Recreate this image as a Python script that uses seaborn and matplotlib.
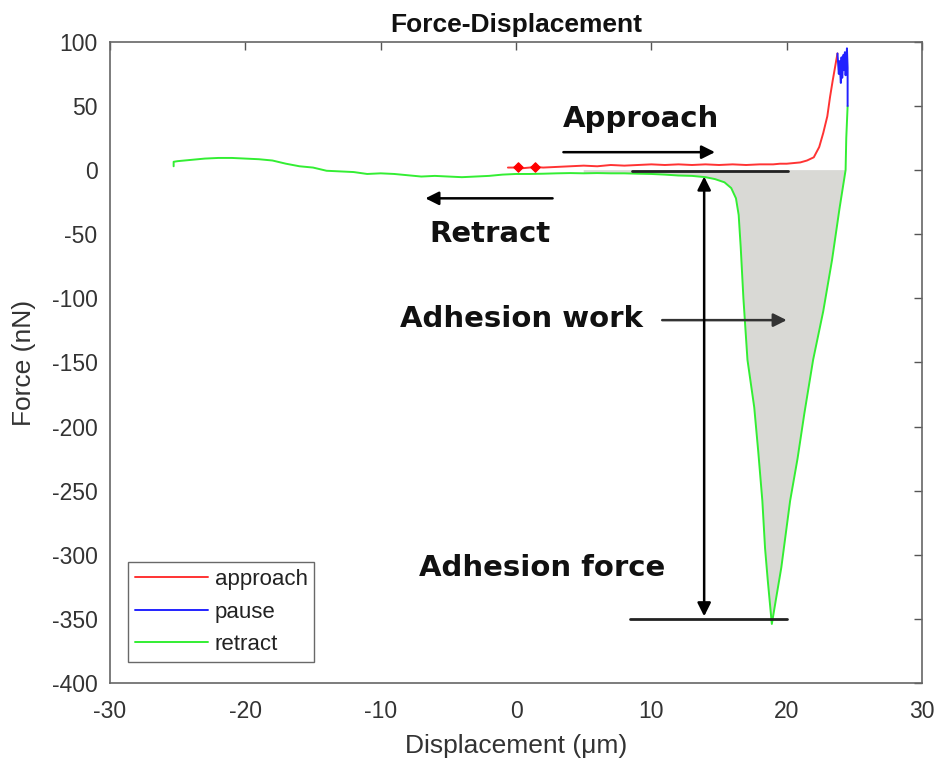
import matplotlib
matplotlib.use("Agg")
import matplotlib.pyplot as plt
import seaborn as sns
import pandas as pd

# ---------------- data ----------------
approach_x = [-0.6, -0.2, 0.15, 0.5, 1.0, 1.4, 2, 3, 4, 5, 6, 7, 8, 9, 10, 11, 12, 13, 14, 15,
              16, 17, 18, 19, 19.5, 20, 20.5, 21, 21.5, 22, 22.4, 22.7, 23.0, 23.2, 23.4, 23.6, 23.75]
approach_y = [2, 2, 2.5, 1.5, 2, 2.5, 2, 2.5, 3, 3.5, 3, 4, 3.5, 4, 4.5, 4, 4.5, 4, 4.5, 4,
              4.5, 4, 4.5, 4.5, 5, 5, 5.5, 6, 7.5, 10, 18, 29, 42, 57, 70, 82, 91]
approach_dot_x = [0.15, 1.4]
approach_dot_y = [2.5, 2.5]

pause_x = [23.75, 23.85, 23.9, 24.0, 24.05, 24.1, 24.2, 24.25, 24.3, 24.35, 24.45, 24.5, 24.5]
pause_y = [91, 75, 85, 68, 88, 72, 90, 78, 92, 74, 95, 80, 50]

retract_x = [24.5, 24.4, 24.35, 23.9, 23.35, 22.7, 21.95, 21.3, 20.8, 20.25, 19.6, 19.2, 18.9,
             18.6, 18.4, 18.2, 17.9, 17.6, 17.1, 16.8, 16.6, 16.45, 16.25, 15.9, 15.4, 14.7, 14.0,
             13, 12, 11, 10, 9, 8, 7, 6, 5, 4, 3, 2, 1, 0, -1, -2, -3, -4, -5, -6, -7, -8, -9,
             -10, -11, -12, -13, -14, -15, -16, -17, -18, -19, -20, -21, -22, -23, -24, -25,
             -25.3, -25.3]
retract_y = [50, 25, 0, -30, -70, -110, -148, -190, -225, -258, -310, -335, -354,
             -320, -295, -258, -220, -185, -148, -100, -60, -35, -22, -14, -9.5, -7, -5.5,
             -4.5, -4.2, -3.5, -3, -2.8, -2.5, -2.5, -2.3, -2.5, -2.3, -2.5, -2.8, -3, -3,
             -3.5, -4.5, -5, -5.5, -5, -4.5, -5, -4, -3, -2.5, -3, -1.5, -1, -0.5, 2, 3, 5,
             7.5, 8.5, 9, 9.5, 9.5, 9, 8, 7, 6.5, 3]

x_ticks = [-30, -20, -10, 0, 10, 20, 30]
y_ticks = [-400, -350, -300, -250, -200, -150, -100, -50, 0, 50, 100]

# ---------------- style ----------------
sns.set_theme(style="white")
plt.rcParams['font.family'] = ['Liberation Sans', 'DejaVu Sans']
plt.rcParams['axes.unicode_minus'] = False

fig = plt.figure(figsize=(9.38, 7.62), dpi=100)
ax = fig.add_axes([0.1173, 0.1037, 0.8657, 0.8413])

# shaded adhesion work region (retract below zero, x >= 5)
fill_x = [x for x, y in zip(retract_x, retract_y) if x >= 5 and y <= 0] + [5]
fill_y = [y for x, y in zip(retract_x, retract_y) if x >= 5 and y <= 0] + [0]
ax.fill(fill_x, fill_y, color="#d9d9d5", zorder=1, lw=0)

df_a = pd.DataFrame({"x": approach_x, "y": approach_y})
df_p = pd.DataFrame({"x": pause_x, "y": pause_y})
df_r = pd.DataFrame({"x": retract_x, "y": retract_y})

sns.lineplot(data=df_r, x="x", y="y", sort=False, estimator=None, ax=ax,
             color="#33ee33", lw=1.4, label="retract", zorder=3)
sns.lineplot(data=df_a, x="x", y="y", sort=False, estimator=None, ax=ax,
             color="#ff3333", lw=1.4, label="approach", zorder=4)
sns.lineplot(data=df_p, x="x", y="y", sort=False, estimator=None, ax=ax,
             color="#2222ff", lw=1.4, label="pause", zorder=4)
ax.scatter(approach_dot_x, approach_dot_y, color="#ff0000", s=22, marker="D", zorder=5)

# reference lines
ax.plot([8.6, 20.1], [-0.5, -0.5], color="#222222", lw=2, zorder=5)
ax.plot([8.4, 20.0], [-350, -350], color="#222222", lw=2, zorder=5)

arrow = dict(arrowstyle="-|>", color="black", lw=1.8, mutation_scale=20, shrinkA=0, shrinkB=0)
ax.annotate("", xy=(14.7, 14), xytext=(3.5, 14), arrowprops=arrow, zorder=6)
ax.annotate("", xy=(-6.7, -22), xytext=(2.7, -22), arrowprops=arrow, zorder=6)
ax.annotate("", xy=(20.0, -117), xytext=(10.8, -117),
            arrowprops=dict(arrow, color="#333333"), zorder=6)
ax.annotate("", xy=(13.9, -348), xytext=(13.9, -5),
            arrowprops=dict(arrowstyle="<|-|>", color="black", lw=1.8,
                            mutation_scale=20, shrinkA=0, shrinkB=0), zorder=6)

tkw = dict(fontsize=21, fontweight="bold", color="#111111", ha="center", va="center",
           family="DejaVu Sans")
ax.text(9.2, 40, "Approach", **tkw)
ax.text(-1.9, -50, "Retract", **tkw)
ax.text(0.4, -116, "Adhesion work", **tkw)
ax.text(1.9, -310, "Adhesion force", **tkw)

# axes
ax.set_xlim(-30, 30)
ax.set_ylim(-400, 100)
ax.set_xticks(x_ticks)
ax.set_yticks(y_ticks)
ax.tick_params(direction="in", top=True, right=True, length=6, width=1,
               labelsize=16.5, colors="#555555", labelcolor="#333333")
ax.tick_params(axis="x", pad=12)
ax.tick_params(axis="y", pad=9)
for s in ax.spines.values():
    s.set_color("#666666")
    s.set_linewidth(1.2)
ax.set_xlabel("Displacement (μm)", fontsize=19, color="#333333", labelpad=8)
ax.set_ylabel("Force (nN)", fontsize=19, color="#333333", labelpad=11)
ax.set_title("Force-Displacement", fontsize=19, fontweight="bold", color="#111111", pad=7)

handles, labels = ax.get_legend_handles_labels()
order = [labels.index(n) for n in ["approach", "pause", "retract"]]
leg = ax.legend([handles[i] for i in order], [labels[i] for i in order],
                loc="lower left", bbox_to_anchor=(0.022, 0.033), fontsize=16,
                handlelength=3.3, frameon=True, fancybox=False, edgecolor="#444444",
                borderpad=0.3, labelspacing=0.52, handletextpad=0.3, borderaxespad=0)
leg.get_frame().set_linewidth(1.0)
for t in leg.get_texts():
    t.set_color("#222222")

fig.savefig("out.png", dpi=100)
